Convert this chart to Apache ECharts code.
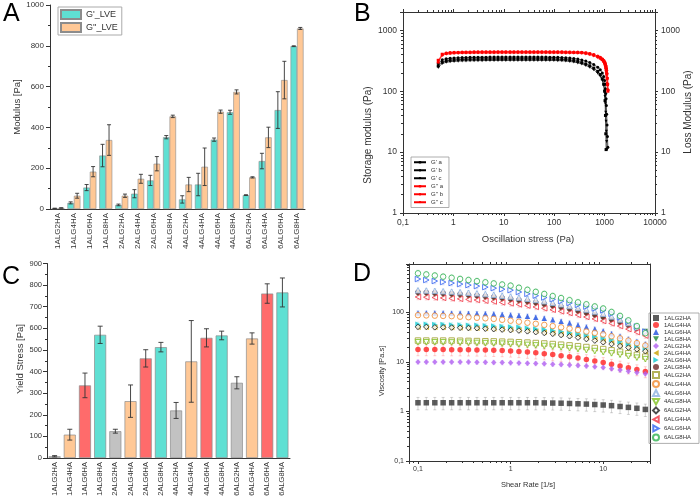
<!DOCTYPE html>
<html><head><meta charset="utf-8">
<script src="https://cdn.jsdelivr.net/npm/echarts@6/dist/echarts.min.js"></script>
<style>html,body{margin:0;padding:0;background:#fff}#c{width:700px;height:502px}</style>
</head><body><div id="c"></div>
<script>
// ---------- DATA ----------
const categories = ['1ALG2HA','1ALG4HA','1ALG6HA','1ALG8HA','2ALG2HA','2ALG4HA','2ALG6HA','2ALG8HA','4ALG2HA','4ALG4HA','4ALG6HA','4ALG8HA','6ALG2HA','6ALG4HA','6ALG6HA','6ALG8HA'];
// Panel A: moduli in LVE region
const gPrimeLVE = [3,30,105,262,20,75,140,352,47,120,340,474,68,235,485,798];
const gPrimeErr = [1,5,15,55,4,20,25,8,18,55,8,10,2,38,90,2];
const gDoublePrimeLVE = [5,65,183,338,65,148,222,454,120,207,477,574,155,351,632,885];
const gDoublePrimeErr = [1,12,25,75,8,22,35,6,35,92,8,10,3,50,92,5];
// Panel C: yield stress
const yieldStress = [8,108,336,570,124,263,461,513,220,447,556,567,348,553,761,766];
const yieldErr = [3,25,57,40,9,75,40,22,37,189,42,20,28,26,45,67];
// Panel B: amplitude sweep
const stressB = [0.5,0.6,0.72,0.86,1.03,1.24,1.49,1.78,2.14,2.57,3.08,3.7,4.44,5.33,6.4,7.68,9.2,11,13.3,15.9,19.1,22.9,27.5,33,39.6,47.5,57,68.4,82.1,98.5,118,142,170,204,245,294,353,424,508,610,732,820,900,960,1000,1020,1040,1055,1070,1085,1100,1120,1140,1160,1180];
const gpA = [260,300,315,322,327,330,332,334,335,336,337,338,338,339,339,340,340,340,341,341,341,341,341,341,341,341,340,340,339,338,335,333,330,325,318,308,295,280,262,240,212,188,160,130,100,70,40,20,11,null,null,null,null,null,null];
const gpB = [285,330,342,348,352,355,357,359,360,361,362,363,363,364,364,365,365,365,365,366,366,366,366,366,366,365,365,364,363,362,360,358,355,351,345,337,327,313,296,275,248,225,200,175,150,130,110,92,75,58,42,28,18,12,null];
const gpC = [245,285,298,305,309,312,314,315,316,317,318,318,319,319,320,320,320,320,320,320,320,320,320,320,320,320,320,320,320,319,318,316,313,308,301,292,280,265,247,225,198,176,150,125,100,82,62,45,32,22,15,11,null,null,null];
const gppA = [322,405,418,424,428,431,433,434,435,436,436,437,437,437,437,438,438,438,438,438,438,438,438,438,438,438,438,438,437,437,437,437,436,435,433,431,430,422,410,392,370,352,332,312,295,280,265,250,232,212,190,160,128,100,null];
const gppB = [300,395,425,432,436,438,440,441,442,443,443,444,444,444,445,445,445,445,445,445,445,445,445,445,445,445,445,445,445,444,444,443,442,441,440,439,438,430,418,400,378,360,340,322,306,293,280,268,254,238,220,195,165,132,105];
const gppC = [310,390,405,412,416,418,420,421,422,423,423,424,424,424,425,425,425,425,425,425,425,425,425,425,425,425,425,425,425,424,424,423,422,421,420,419,418,410,398,380,356,336,314,292,275,260,244,228,210,190,165,135,105,null,null];
// Panel D: flow curves
const shearRate = [0.1,0.123,0.152,0.187,0.231,0.285,0.351,0.433,0.534,0.658,0.811,1.0,1.23,1.52,1.87,2.31,2.85,3.51,4.33,5.34,6.58,8.11,10,12.3,15.2,18.7,23.1,28.5];
const v1ALG2HA = [1.5,1.5,1.5,1.5,1.5,1.5,1.5,1.5,1.5,1.5,1.5,1.5,1.5,1.5,1.5,1.49,1.48,1.47,1.45,1.43,1.41,1.38,1.35,1.31,1.26,1.21,1.16,1.1];
const v1ALG4HA = [17.8,17.8,17.8,17.8,17.7,17.7,17.6,17.5,17.4,17.2,17,16.7,16.3,15.8,15.3,14.7,14.1,13.4,12.7,12,11.2,10.5,9.8,9,8.3,7.6,7,6.4];
const v1ALG6HA = [97,97,97,97,96,96,95,95,94,93,91,89,87,84,80,76,71,66,61,56,51,46,42,37,33,29,26,23];
const v1ALG8HA = [235,232,228,224,219,214,208,202,195,188,180,172,163,154,145,136,126,117,108,99,90,82,74,66,59,52,46,41];
const v2ALG2HA = [10,10,10,10,10,10,10,9.9,9.9,9.8,9.7,9.6,9.5,9.4,9.3,9.2,9,8.9,8.7,8.5,8.3,8,7.7,7.3,6.9,6.5,6.1,5.8];
const v2ALG4HA = [50,50,50,50,49.5,49,48.5,48,47.5,47,46,45,44,43,41.5,40,38.5,36.5,34.5,32.5,30.5,28.5,26.5,24.5,22,20,18,16];
const v2ALG6HA = [58,58,57,57,56,56,55,55,54,53,52,51,50,48,46.5,45,43,41,39,37,35,33,30.5,28,25.5,23,21,19];
const v2ALG8HA = [255,252,248,243,238,232,226,219,212,204,196,187,178,168,158,148,138,128,118,108,99,90,81,72,63,55,47,40];
const v4ALG2HA = [27,27,27,27,27,26.8,26.6,26.4,26.2,26,25.7,25.4,25,24.6,24.1,23.6,23,22.3,21.6,20.8,20,19.1,18.2,17.2,16.1,15,13.9,12.8];
const v4ALG4HA = [88,87,86,85,84,82,80,78,76,74,71,68,65,62,59,56,53,50,47,44,41,38.5,36,33,30,27,24,21.5];
const v4ALG6HA = [280,277,273,268,263,257,250,243,235,227,218,209,199,189,179,168,157,146,135,124,114,104,94,83,72,61,50,40];
const v4ALG8HA = [25,25,25,25,24.8,24.6,24.4,24.2,24,23.7,23.4,23,22.6,22.1,21.6,21,20.4,19.7,19,18.2,17.4,16.6,15.8,14.9,14,13.1,12.2,11.4];
const v6ALG2HA = [51,51,50,50,49.5,49,48.5,48,47,46,45,44,43,41.5,40,38.5,37,35,33,31,29,27,25,23,21,19.5,18,16.5];
const v6ALG4HA = [205,203,200,196,192,188,183,178,172,166,159,152,145,137,129,121,113,105,97,89,81,74,67,60,53,46,40,34];
const v6ALG6HA = [472,451,430,410,391,373,356,340,324,309,294,281,258,237,218,200,184,169,155,142,131,120,110,94,79,65,52,41];
const v6ALG8HA = [617,585,556,527,500,474,451,428,406,385,366,347,315,286,260,236,214,195,177,160,146,132,120,102,85,69,53,38];
const viscRelErr = [0.28,0.25,0.1,0.1,0.1,0.1,0.1,0.1,0.12,0.1,0.1,0.1,0.1,0.12,0.12,0.15];

// ---------- STYLES ----------
const FONT = '"Liberation Sans", Arial, sans-serif';
const AX = '#333';
const TEAL = '#5fe0d3', ORANGE = '#ffc896', REDB = '#ff6b6b', GRAYB = '#c2c2c2';
const haColors = [GRAYB, ORANGE, REDB, TEAL];
const TRI_DOWN = 'path://M0,0L10,0L5,9Z';
const TRI_LEFT = 'path://M9,0L9,10L0,5Z';
const TRI_RIGHT = 'path://M0,0L0,10L9,5Z';
const viscArrays = [v1ALG2HA,v1ALG4HA,v1ALG6HA,v1ALG8HA,v2ALG2HA,v2ALG4HA,v2ALG6HA,v2ALG8HA,v4ALG2HA,v4ALG4HA,v4ALG6HA,v4ALG8HA,v6ALG2HA,v6ALG4HA,v6ALG6HA,v6ALG8HA];
const dColors = ['#333333','#ff2020','#2050e0','#1f8a3a','#b060f0','#c8a000','#10c8d0','#6e2c2c','#a0a030','#f08a30','#8ab0e0','#80c020','#202020','#f03040','#3060f0','#30b050'];
const dSymbols = ['rect','circle','triangle',TRI_DOWN,'diamond',TRI_LEFT,TRI_RIGHT,'circle','rect','circle','triangle',TRI_DOWN,'diamond',TRI_LEFT,TRI_RIGHT,'circle'];
const dHollow = [false,false,false,false,false,false,false,false,true,true,true,true,true,true,true,true];

function logLabel(v){
  const l = Math.log10(v);
  if (Math.abs(l - Math.round(l)) > 1e-6) return '';
  const r = Math.round(l);
  return r < 0 ? ('0,' + '0'.repeat(-r-1) + '1') : String(Math.round(Math.pow(10, r)));
}
function errBar(off, cap, color, lw){
  return function(params, api){
    const x = api.value(0), y = api.value(1), e = api.value(2);
    const p0 = api.coord([x, y - e]), p1 = api.coord([x, y + e]);
    const cx = p0[0] + off;
    const st = {stroke: color, lineWidth: lw};
    return {type:'group', children:[
      {type:'line', shape:{x1:cx,y1:p0[1],x2:cx,y2:p1[1]}, style:st},
      {type:'line', shape:{x1:cx-cap,y1:p1[1],x2:cx+cap,y2:p1[1]}, style:st},
      {type:'line', shape:{x1:cx-cap,y1:p0[1],x2:cx+cap,y2:p0[1]}, style:st}
    ]};
  };
}
const lineAx = {lineStyle:{color:AX, width:1}};

const chart = echarts.init(document.getElementById('c'));
const series = [];

// Panel A
series.push({type:'bar', name:"G'_LVE", xAxisIndex:0, yAxisIndex:0, data:gPrimeLVE, barWidth:6.5, barGap:'0%',
  itemStyle:{color:TEAL, borderColor:'#8c8c8c', borderWidth:0.6}});
series.push({type:'bar', name:"G''_LVE", xAxisIndex:0, yAxisIndex:0, data:gDoublePrimeLVE, barWidth:6.5, barGap:'0%',
  itemStyle:{color:ORANGE, borderColor:'#8c8c8c', borderWidth:0.6}});
series.push({type:'custom', xAxisIndex:0, yAxisIndex:0, z:5, renderItem:errBar(-3.25, 2, '#333', 0.9),
  data:gPrimeLVE.map((v,i)=>[i, v, gPrimeErr[i]])});
series.push({type:'custom', xAxisIndex:0, yAxisIndex:0, z:5, renderItem:errBar(3.25, 2, '#333', 0.9),
  data:gDoublePrimeLVE.map((v,i)=>[i, v, gDoublePrimeErr[i]])});

// Panel B
const bDefs = [
  {name:"G' a", arr:gpA, color:'#000', symbol:'rect', y:1},
  {name:"G' b", arr:gpB, color:'#000', symbol:'circle', y:1},
  {name:"G' c", arr:gpC, color:'#000', symbol:TRI_DOWN, y:1},
  {name:"G'' a", arr:gppA, color:'#ff0000', symbol:'rect', y:2},
  {name:"G'' b", arr:gppB, color:'#ff0000', symbol:'circle', y:2},
  {name:"G'' c", arr:gppC, color:'#ff0000', symbol:TRI_DOWN, y:2}
];
bDefs.forEach(d => {
  series.push({type:'line', name:d.name, xAxisIndex:1, yAxisIndex:d.y,
    data: stressB.map((x,i)=>[x, d.arr[i]]).filter(p => p[1] != null),
    symbol:d.symbol, symbolSize:3, showAllSymbol:true,
    lineStyle:{color:d.color, width:0.6}, itemStyle:{color:d.color}});
});

// Panel C
series.push({type:'bar', xAxisIndex:3, yAxisIndex:3, data:yieldStress, barWidth:12,
  itemStyle:{color:p => haColors[p.dataIndex % 4], borderColor:'#8c8c8c', borderWidth:0.7}});
series.push({type:'custom', xAxisIndex:3, yAxisIndex:3, z:5, renderItem:errBar(0, 2.5, '#333', 0.9),
  data:yieldStress.map((v,i)=>[i, v, yieldErr[i]])});

// Panel D
const dErrRows = [];
viscArrays.forEach((arr, s) => arr.forEach((v,i) => dErrRows.push([shearRate[i], v, v*viscRelErr[s], s])));
series.push({type:'custom', xAxisIndex:4, yAxisIndex:4, z:1, data:dErrRows,
  renderItem:function(params, api){
    const x = api.value(0), y = api.value(1), e = api.value(2), s = api.value(3);
    const p0 = api.coord([x, y - e]), p1 = api.coord([x, y + e]);
    const st = {stroke: dColors[s], lineWidth: 0.7, opacity: 0.3};
    return {type:'group', children:[
      {type:'line', shape:{x1:p0[0],y1:p0[1],x2:p0[0],y2:p1[1]}, style:st},
      {type:'line', shape:{x1:p0[0]-1.5,y1:p1[1],x2:p0[0]+1.5,y2:p1[1]}, style:st},
      {type:'line', shape:{x1:p0[0]-1.5,y1:p0[1],x2:p0[0]+1.5,y2:p0[1]}, style:st}
    ]};
  }});
viscArrays.forEach((arr, s) => {
  series.push({type:'scatter', name:categories[s], xAxisIndex:4, yAxisIndex:4, z:2,
    data: shearRate.map((x,i)=>[x, arr[i]]),
    symbol:dSymbols[s], symbolSize:5.5,
    itemStyle: dHollow[s] ? {color:'#fff', borderColor:dColors[s], borderWidth:1} : {color:dColors[s]}});
});

const tickLbl = (sz) => ({color:AX, fontSize:sz, fontFamily:FONT});

const option = {
  animation:false,
  backgroundColor:'#fff',
  textStyle:{fontFamily:FONT},
  grid:[
    {left:50, top:5, width:255, height:204},
    {left:403, top:12, width:252, height:201},
    {left:47, top:263.5, width:243, height:194.5},
    {left:409, top:264, width:241, height:197}
  ],
  xAxis:[
    {type:'category', gridIndex:0, data:categories, axisLine:lineAx, axisTick:{show:false},
      axisLabel:Object.assign({rotate:90, interval:0, margin:4}, tickLbl(8))},
    {type:'log', gridIndex:1, min:0.1, max:10000, axisLine:lineAx, splitLine:{show:false},
      axisTick:{length:3, lineStyle:{color:AX}}, minorTick:{show:true, splitNumber:9, length:2, lineStyle:{color:AX}},
      axisLabel:Object.assign({formatter:logLabel, margin:5}, tickLbl(8.5))},
    {type:'log', gridIndex:1, position:'top', min:0.1, max:10000, axisLine:lineAx, splitLine:{show:false},
      axisTick:{length:3, lineStyle:{color:AX}}, minorTick:{show:true, splitNumber:9, length:2, lineStyle:{color:AX}},
      axisLabel:{show:false}},
    {type:'category', gridIndex:2, data:categories, axisLine:lineAx, axisTick:{show:false},
      axisLabel:Object.assign({rotate:90, interval:0, margin:4}, tickLbl(7.5))},
    {type:'log', gridIndex:3, min:0.08, max:32, axisLine:lineAx, splitLine:{show:false},
      axisTick:{length:3, lineStyle:{color:AX}}, minorTick:{show:true, splitNumber:9, length:2, lineStyle:{color:AX}},
      axisLabel:Object.assign({formatter:logLabel, margin:5, showMinLabel:false, showMaxLabel:false}, tickLbl(7))},
    {type:'log', gridIndex:3, position:'top', min:0.08, max:32, axisLine:lineAx, splitLine:{show:false},
      axisTick:{show:false}, minorTick:{show:true, splitNumber:9, length:2, lineStyle:{color:AX}},
      axisLabel:{show:false}}
  ],
  yAxis:[
    {type:'value', gridIndex:0, min:0, max:1000, interval:200, axisLine:{show:true, lineStyle:{color:AX}}, splitLine:{show:false},
      axisTick:{show:true, length:4, lineStyle:{color:AX}}, minorTick:{show:true, splitNumber:2, length:2, lineStyle:{color:AX}},
      axisLabel:Object.assign({margin:6, formatter: v => String(v)}, tickLbl(8))},
    {type:'log', gridIndex:1, min:1, max:2000, axisLine:{show:true, lineStyle:{color:AX}}, splitLine:{show:false},
      axisTick:{show:true, length:3, lineStyle:{color:AX}}, minorTick:{show:true, splitNumber:9, length:2, lineStyle:{color:AX}},
      axisLabel:Object.assign({formatter:logLabel, margin:6}, tickLbl(8.5))},
    {type:'log', gridIndex:1, position:'right', min:1, max:2000, axisLine:{show:true, lineStyle:{color:AX}}, splitLine:{show:false},
      axisTick:{show:true, length:3, lineStyle:{color:AX}}, minorTick:{show:true, splitNumber:9, length:2, lineStyle:{color:AX}},
      axisLabel:Object.assign({formatter:logLabel, margin:6}, tickLbl(8.5))},
    {type:'value', gridIndex:2, min:0, max:900, interval:100, axisLine:{show:true, lineStyle:{color:AX}}, splitLine:{show:false},
      axisTick:{show:true, length:4, lineStyle:{color:AX}}, minorTick:{show:true, splitNumber:2, length:2, lineStyle:{color:AX}},
      axisLabel:Object.assign({margin:5}, tickLbl(7.5))},
    {type:'log', gridIndex:3, min:0.1, max:950, axisLine:{show:true, lineStyle:{color:AX}}, splitLine:{show:false},
      axisTick:{show:true, length:3, lineStyle:{color:AX}}, minorTick:{show:true, splitNumber:9, length:2, lineStyle:{color:AX}},
      axisLabel:Object.assign({formatter:logLabel, margin:5}, tickLbl(7))},
    {type:'log', gridIndex:3, position:'right', min:0.1, max:950, axisLine:{show:true, lineStyle:{color:AX}}, splitLine:{show:false},
      axisTick:{show:false}, axisLabel:{show:false}}
  ],
  legend:[
    {data:["G'_LVE","G''_LVE"], left:58, top:7, orient:'vertical', itemWidth:20, itemHeight:9, itemGap:2,
      padding:[2,4,2,2], borderColor:'#aaa', borderWidth:1, icon:'rect', textStyle:{fontSize:9, color:AX, fontFamily:FONT}},
    {data:bDefs.map(d=>d.name), left:411, top:157, orient:'vertical', itemWidth:12, itemHeight:3, itemGap:1.5,
      padding:[2,6,2,2], borderColor:'#999', borderWidth:0.8, textStyle:{fontSize:6, lineHeight:6.5, color:AX, fontFamily:FONT}},
    {data:categories, left:649, top:313, orient:'vertical', itemWidth:6, itemHeight:6, itemGap:1,
      padding:[2,8,2,3], borderColor:'#999', borderWidth:0.8, textStyle:{fontSize:6, lineHeight:6, color:AX, fontFamily:FONT}}
  ],
  graphic:[
    {type:'text', x:3, y:2, style:{text:'A', font:'25px '+FONT, fill:'#000'}},
    {type:'text', x:354, y:2, style:{text:'B', font:'25px '+FONT, fill:'#000'}},
    {type:'text', x:2, y:265, style:{text:'C', font:'25px '+FONT, fill:'#000'}},
    {type:'text', x:353, y:262, style:{text:'D', font:'25px '+FONT, fill:'#000'}},
    {type:'text', x:17, y:107, rotation:Math.PI/2, style:{text:'Modulus [Pa]', font:'9.5px '+FONT, fill:AX, textAlign:'center', textVerticalAlign:'middle'}},
    {type:'text', x:20, y:359, rotation:Math.PI/2, style:{text:'Yield Stress [Pa]', font:'9.5px '+FONT, fill:AX, textAlign:'center', textVerticalAlign:'middle'}},
    {type:'text', x:368, y:135, rotation:Math.PI/2, style:{text:'Storage modulus (Pa)', font:'10px '+FONT, fill:AX, textAlign:'center', textVerticalAlign:'middle'}},
    {type:'text', x:688, y:112, rotation:Math.PI/2, style:{text:'Loss Modulus (Pa)', font:'10px '+FONT, fill:AX, textAlign:'center', textVerticalAlign:'middle'}},
    {type:'text', x:528, y:239, style:{text:'Oscillation stress (Pa)', font:'9.5px '+FONT, fill:AX, textAlign:'center', textVerticalAlign:'middle'}},
    {type:'text', x:382, y:371, rotation:Math.PI/2, style:{text:'Viscosity [Pa.s]', font:'7.5px '+FONT, fill:AX, textAlign:'center', textVerticalAlign:'middle'}},
    {type:'text', x:528, y:485, style:{text:'Shear Rate [1/s]', font:'7.5px '+FONT, fill:AX, textAlign:'center', textVerticalAlign:'middle'}}
  ],
  series: series
};
chart.setOption(option);
</script></body></html>
